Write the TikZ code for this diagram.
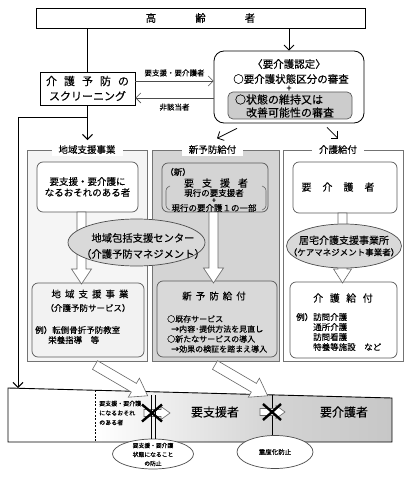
\documentclass[tikz,border=0pt]{standalone}
\usepackage{fontspec}
\setmainfont{Noto Sans CJK JP}[FakeBold=0.2]
\usetikzlibrary{arrows.meta,shapes.geometric}

\newcommand{\fsz}[1]{\fontsize{#1}{#1}\selectfont}
% hollow block arrow: start, angle, length, shaft half width, head half width, head length
\newcommand{\hollowarrow}[6]{%
  \begin{scope}[shift={#1},rotate=#2]
    \draw[hollow] (0,-#4) -- ({#3-#6},-#4) -- ({#3-#6},-#5) -- (#3,0)
      -- ({#3-#6},#5) -- ({#3-#6},#4) -- (0,#4) -- cycle;
  \end{scope}}

\tikzset{
  barb/.style={-{Straight Barb[length=5pt,width=10pt]}},
  frame/.style={draw=black!55, line width=0.8pt, inner sep=0pt},
  box/.style={draw=black!65, rounded corners=6pt, line width=0.7pt, inner sep=0pt},
  header/.style={fill=white, inner xsep=7pt, inner ysep=2pt, font=\fsz{9.5}},
  oval/.style={ellipse, draw=black!70, line width=0.7pt, inner sep=0pt},
  hollow/.style={draw=black!60, fill=white, line width=0.6pt},
  cross/.style={line width=2.4pt, black},
}

\begin{document}
\begin{tikzpicture}[x=1pt,y=-1pt]
  \useasboundingbox (0,0) rectangle (413,481);

  % Top box
  \node[draw, line width=0.8pt, minimum width=329pt, minimum height=20pt, inner sep=0pt] (elder) at (200.5,18) {\fsz{10.5}高\hspace{39pt}齢\hspace{39pt}者};

  % Screening and certification
  \node[draw, line width=0.8pt, minimum width=95pt, minimum height=33pt, inner sep=0pt, align=center, font=\fontsize{11}{15}\selectfont] (screening) at (87.5,88.5) {介\hspace{7pt}護\hspace{7pt}予\hspace{7pt}防\hspace{7pt}の\\スクリーニング};

  \node[draw, line width=0.8pt, rounded corners=10pt, minimum width=150pt, minimum height=72pt] (nintei) at (289,87) {};
  \node[font=\fsz{10.5}] (ninteititle) at (289,64) {〈要介護認定〉};
  \node[font=\fsz{10.5}] (ninteiA) at (291,79) {○要介護状態区分の審査};
  \node[font=\fsz{9}] (ninteiplus) at (289,88.5) {+};
  \node[box, rounded corners=5pt, fill=black!20, minimum width=124pt, minimum height=27pt] (ninteiB) at (290,105.5) {};
  \node[align=left, font=\fontsize{11}{13}\selectfont] (ninteiBtext) at (284.5,106) {○状態の維持又は\\　改善可能性の審査};

  % Connectors at the top
  \draw[line width=1pt] (elder.south -| screening.north) -- (screening.north);
  \draw[barb, line width=0.8pt] (elder.south -| nintei.north) -- (nintei.north);
  \draw[barb, black!70, line width=0.6pt] ([yshift=7.5pt]screening.east) -- ([yshift=7.5pt]screening.east -| nintei.west) node[midway, above=1pt, black, font=\fsz{7.5}] (lblyes) {要支援・要介護者};
  \draw[barb, black!70, line width=0.6pt] ([yshift=-9.5pt]screening.east -| nintei.west) -- ([yshift=-9.5pt]screening.east) node[midway, below=2pt, black, font=\fsz{7.5}] (lblno) {非該当者};

  % Columns
  \node[frame, fill=black!4, minimum width=120pt, minimum height=211pt] (col1) at (87,255.5) {};
  \node[frame, fill=black!17, minimum width=127pt, minimum height=211pt] (col2) at (215.5,255.5) {};
  \node[frame, fill=white, minimum width=120pt, minimum height=211pt] (col3) at (343,255.5) {};
  \node[header] (head1) at (col1.north) {地域支援事業};
  \node[header] (head2) at ([xshift=-3pt]col2.north) {新予防給付};
  \node[header] (head3) at ([xshift=-5pt]col3.north) {介護給付};

  \draw[barb, line width=1pt] (screening.south) -- ([yshift=3pt]head1.north -| screening.south);
  \coordinate (branch) at (87.5,118);
  \coordinate (bandin) at (18,388);
  \draw[barb, line width=1pt] (branch) -| (bandin);
  \draw[barb, line width=0.8pt] ([xshift=-52pt,yshift=-5pt]nintei.south) -- ([xshift=-72pt,yshift=-15pt]nintei.south);
  \draw[barb, line width=0.8pt] ([xshift=38pt,yshift=-4pt]nintei.south) -- ([xshift=49pt,yshift=-15pt]nintei.south);

  % Left column
  \node[box, fill=white, minimum width=101pt, minimum height=50pt, align=center, font=\fontsize{9.5}{11}\selectfont] (risk) at (87.5,187) {要支援・要介護に\\なるおそれのある者};
  \node[box, fill=black!5, minimum width=112pt, minimum height=74pt] (chiiki) at (88,320) {};
  \node[font=\fsz{9.5}] (chiikiT) at (90,294) {地\hspace{4pt}域\hspace{4pt}支\hspace{4pt}援\hspace{4pt}事\hspace{4pt}業};
  \node[font=\fsz{8.5}] (chiikiS) at (88,308) {（介護予防サービス）};
  \node[anchor=west, align=left, font=\fontsize{8.5}{10}\selectfont, inner sep=0pt] (chiikiEx) at (35,335) {例）転倒骨折予防教室\\\hspace*{13pt}栄養指導　等};

  % Middle column
  \node[box, fill=black!17, minimum width=106pt, minimum height=49pt] (shien) at (215,187.5) {};
  \node[font=\fsz{8.5}] (shienA) at (178,172) {（新）};
  \node[font=\fsz{10}] (shienB) at (216,183) {要\hspace{8pt}支\hspace{8pt}援\hspace{8pt}者};
  \node[font=\fsz{8.5}] (shienC) at (214,193) {現行の要支援者};
  \node[font=\fsz{7}] (shienD) at (214,200.5) {+};
  \node[font=\fsz{8.5}] (shienE) at (214,208) {現行の要介護１の一部};
  \draw[black!60, line width=0.6pt, rounded corners=2.5pt] (170,186) -- (166,188) -- (166,208) -- (170,210);
  \draw[black!60, line width=0.6pt, rounded corners=2.5pt] (262,186) -- (266,188) -- (266,208) -- (262,210);
  \node[box, fill=black!15, minimum width=120pt, minimum height=76pt] (shinkyufu) at (217,319) {};
  \node[font=\fsz{9.5}] (shinkyufuT) at (214,296) {新\hspace{4pt}予\hspace{4pt}防\hspace{4pt}給\hspace{4pt}付};
  \node[anchor=west, align=left, font=\fontsize{8}{10}\selectfont, inner sep=0pt] (shinkyufuEx) at (167,334) {○既存サービス\\\hspace*{4pt}→内容･提供方法を見直し\\○新たなサービスの導入\\\hspace*{4pt}→効果の検証を踏まえ導入};

  % Right column
  \node[box, fill=white, minimum width=104pt, minimum height=51pt] (kaigo) at (345,187.5) {};
  \node[font=\fsz{10}] (kaigoT) at (338,187) {要\hspace{11pt}介\hspace{11pt}護\hspace{11pt}者};
  \node[box, fill=white, minimum width=107pt, minimum height=76pt] (kyufu) at (343.5,320) {};
  \node[font=\fsz{10}] (kyufuT) at (343,298) {介\hspace{6.5pt}護\hspace{6.5pt}給\hspace{6.5pt}付};
  \node[anchor=west, align=left, font=\fontsize{8.5}{10}\selectfont, inner sep=0pt] (kyufuEx) at (296,332) {例）訪問介護\\\hspace*{17pt}通所介護\\\hspace*{17pt}訪問看護\\\hspace*{17pt}特養等施設　など};

  % Block arrows inside the columns
  \hollowarrow{(81.5,212)}{-90}{72}{4.5}{10}{15}
  \hollowarrow{(213.5,212)}{-90}{71}{4.5}{10}{15}
  \hollowarrow{(342.5,213)}{-90}{70}{4.5}{9}{14}

  % Care management ovals
  \node[oval, fill=black!15, minimum width=137pt, minimum height=47pt] (houkatsu) at (136.5,242.5) {};
  \node[align=center, font=\fontsize{10.3}{16}\selectfont] (houkatsuT) at (143,246) {地域包括支援センター\\（介護予防マネジメント）};
  \node[oval, fill=black!15, minimum width=115pt, minimum height=44pt] (kyotaku) at (344,246) {};
  \node[align=center, font=\fontsize{10}{11.5}\selectfont] (kyotakuT) at (344,246) {居宅介護支援事業所\\{\fsz{8.5}（ケアマネジメント事業者）}};

  % Bottom band
  \begin{scope}
    \clip (8,388) -- (392,398) -- (392,442) -- (8,442) -- cycle;
    \fill[white] (8,380) rectangle (95,450);
    \shade[left color=white, right color=black!17] (95,380) rectangle (272,450);
    \shade[left color=black!17, right color=black!22] (272,380) rectangle (392,450);
  \end{scope}
  \draw[line width=0.9pt] (8,388) -- (392,398) -- (392,442) -- (8,442) -- cycle;
  \draw[dash pattern=on 2pt off 1.5pt, line width=0.6pt] (95,390.3) -- (95,442);
  \draw[line width=0.7pt] (272,394.9) -- (272,442);

  \node[anchor=west, align=left, font=\fontsize{6}{9.5}\selectfont, inner sep=0pt] (riskS) at (99,413) {要支援・要介護\\になるおそれ\\のある者};
  \node[font=\fsz{12}] (shienZ) at (215,412) {要支援者};
  \node[font=\fsz{12}] (kaigoZ) at (344,412) {要介護者};

  % Arrows into the band
  \hollowarrow{(95,365)}{-30.3}{61}{5}{11}{16}
  \hollowarrow{(215,365)}{-30.3}{61}{5}{11}{16}
  \hollowarrow{(144,413)}{0}{26}{3.5}{6.5}{9}
  \hollowarrow{(260,412)}{0}{25}{3.5}{6.5}{9}

  % Prevention ovals
  \node[oval, fill=white, minimum width=81pt, minimum height=30pt] (boshi1) at (153,454) {};
  \node[align=center, font=\fontsize{5.8}{9}\selectfont] (boshi1T) at (153,454.5) {要支援・要介護\\状態になること\\の防止};
  \node[oval, fill=white, minimum width=76pt, minimum height=33pt] (boshi2) at (275,452) {};
  \node[font=\fsz{6.5}] (boshi2T) at (boshi2) {重度化防止};

  \draw[line width=0.8pt] ([xshift=-2pt]boshi1.north) -- ++(0,-44);
  \draw[line width=0.8pt] ([xshift=2pt]boshi1.north) -- ++(0,-44);
  \draw[cross] (142,404.5) -- (162,421.5) (142,421.5) -- (162,404.5);
  \draw[cross] (263,404) -- (281,420) (263,420) -- (281,404);

\end{tikzpicture}
\end{document}
